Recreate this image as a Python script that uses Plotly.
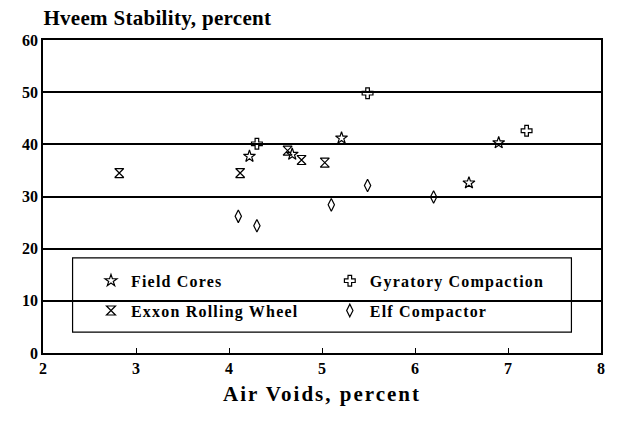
import plotly.graph_objects as go

# Data
field_x = [4.22, 4.68, 5.21, 6.58, 6.90]
field_y = [37.7, 38.1, 41.2, 32.6, 40.3]

gyr_x = [4.30, 5.49, 7.20]
gyr_y = [40.1, 49.8, 42.6]

exxon_x = [2.82, 4.12, 4.63, 4.78, 5.03]
exxon_y = [34.5, 34.5, 38.8, 37.0, 36.5]

elf_x = [4.10, 4.30, 5.10, 5.49, 6.20]
elf_y = [26.2, 24.4, 28.4, 32.1, 29.9]

x_ticks = [2, 3, 4, 5, 6, 7, 8]
y_ticks = [0, 10, 20, 30, 40, 50, 60]

FONT = "Liberation Serif"
mk = dict(color="black", size=9, line=dict(color="black", width=1.2))

fig = go.Figure()
fig.add_trace(go.Scatter(x=field_x, y=field_y, mode="markers", name="Field Cores",
                         legend="legend", legendgroup="a",
                         marker=dict(symbol="star-open", **mk)))
fig.add_trace(go.Scatter(x=exxon_x, y=exxon_y, mode="markers", name="Exxon Rolling Wheel",
                         legend="legend", legendgroup="b",
                         marker=dict(symbol="hourglass-open", **mk)))
fig.add_trace(go.Scatter(x=gyr_x, y=gyr_y, mode="markers", name="Gyratory Compaction",
                         legend="legend2", legendgroup="c",
                         marker=dict(symbol="cross-open", **mk)))
fig.add_trace(go.Scatter(x=elf_x, y=elf_y, mode="markers", name="Elf Compactor",
                         legend="legend2", legendgroup="d",
                         marker=dict(symbol="diamond-tall-open", **mk)))

leg_common = dict(orientation="v", yanchor="top", xanchor="left",
                  bgcolor="rgba(0,0,0,0)", borderwidth=0, tracegroupgap=6,
                  itemsizing="trace",
                  font=dict(family=FONT, size=16, color="black", weight="bold"))

fig.update_layout(
    width=617, height=422,
    margin=dict(l=43, r=12, t=40, b=69),
    paper_bgcolor="white", plot_bgcolor="white",
    font=dict(family=FONT, color="black"),
    showlegend=True,
    legend=dict(x=0.086, y=0.285, **leg_common),
    legend2=dict(x=0.514, y=0.285, **leg_common),
    shapes=[dict(type="rect", xref="paper", yref="paper",
                 x0=0.053, x1=0.947, y0=0.067, y1=0.304,
                 line=dict(color="black", width=1.2), fillcolor="white", layer="between")],
    annotations=[dict(text="<b>Hveem Stability, percent</b>", xref="paper", yref="paper",
                      x=0.0, y=1.0, xanchor="left", yanchor="bottom", yshift=8, xshift=2,
                      showarrow=False, font=dict(family=FONT, size=21, color="black"))],
)

fig.update_xaxes(range=[2, 8], tickvals=x_ticks, ticktext=[f"<b>{v}</b>" for v in x_ticks],
                 showgrid=False, zeroline=False, showline=True, mirror=True,
                 linecolor="black", linewidth=1.5, ticks="inside", ticklen=5,
                 tickcolor="black", tickwidth=1,
                 tickfont=dict(family=FONT, size=16, color="black"),
                 title=dict(text="<b>Air Voids, percent</b>", standoff=10,
                            font=dict(family=FONT, size=21, color="black")))
fig.update_yaxes(range=[0, 60], tickvals=y_ticks, ticktext=[f"<b>{v}</b>" for v in y_ticks],
                 showgrid=True, gridcolor="black", gridwidth=1.5, zeroline=False,
                 showline=True, mirror=True, linecolor="black", linewidth=1.5,
                 ticks="", tickfont=dict(family=FONT, size=16, color="black"))

post = """
document.body.style.margin='0';
var st = document.createElement('style');
st.textContent = 'body{margin:0}' +
  'text.legendtext, .infolayer g[class*="legend"] text{letter-spacing:1.2px !important}' +
  '.xtitle{letter-spacing:2px}' +
  '.annotation-text{letter-spacing:0.3px}' +
  '.infolayer [class*="legend"], .infolayer [class*="legend"] *{clip-path:none !important}';
document.head.appendChild(st);
"""

fig.write_html("out.html", post_script=post, config={"displayModeBar": False})
